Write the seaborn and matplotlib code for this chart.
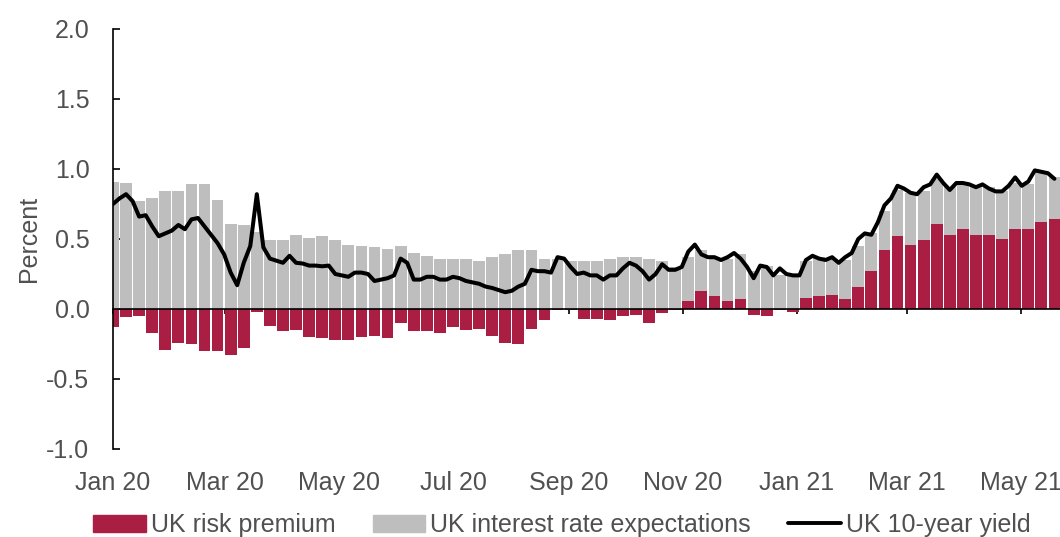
import matplotlib
matplotlib.use('Agg')
import matplotlib.pyplot as plt
import matplotlib.dates as mdates
from matplotlib.patches import Patch
from matplotlib.lines import Line2D
import seaborn as sns
import numpy as np
import pandas as pd

# weekly decomposition (bars), one value per week centred on Wednesday
week_dates = pd.date_range('2020-01-01', periods=73, freq='7D')
risk_premium = [
    -0.13, -0.06, -0.05, -0.17, -0.29, -0.24, -0.25, -0.30, -0.30, -0.33,
    -0.28, -0.02, -0.12, -0.16, -0.15, -0.20, -0.21, -0.22, -0.22, -0.20,
    -0.19, -0.21, -0.10, -0.16, -0.16, -0.17, -0.13, -0.15, -0.14, -0.19,
    -0.24, -0.25, -0.14, -0.08, -0.01, -0.01, -0.07, -0.07, -0.08, -0.05,
    -0.04, -0.10, -0.03, -0.01, 0.06, 0.13, 0.09, 0.06, 0.07, -0.04,
    -0.05, -0.01, -0.02, 0.08, 0.09, 0.10, 0.07, 0.16, 0.27, 0.42,
    0.52, 0.46, 0.49, 0.61, 0.53, 0.57, 0.53, 0.53, 0.50, 0.57,
    0.57, 0.62, 0.64,
]
rate_expectations = [
    0.91, 0.90, 0.77, 0.79, 0.84, 0.84, 0.89, 0.89, 0.78, 0.61,
    0.60, 0.55, 0.49, 0.49, 0.53, 0.51, 0.52, 0.49, 0.46, 0.45,
    0.44, 0.43, 0.45, 0.40, 0.38, 0.36, 0.36, 0.36, 0.345, 0.37,
    0.39, 0.42, 0.42, 0.36, 0.36, 0.34, 0.345, 0.345, 0.36, 0.37,
    0.37, 0.36, 0.34, 0.30, 0.31, 0.29, 0.28, 0.30, 0.32, 0.27,
    0.31, 0.24, 0.25, 0.26, 0.28, 0.26, 0.28, 0.29, 0.27, 0.28,
    0.33, 0.37, 0.35, 0.32, 0.34, 0.34, 0.35, 0.34, 0.34, 0.33,
    0.32, 0.36, 0.30,
]

# 10-year yield, read twice a week
line_dates = pd.date_range('2020-01-01', periods=145, freq='84h')
yield_10y = [
    0.75, 0.79, 0.82, 0.77, 0.66, 0.67, 0.59, 0.52, 0.54, 0.56,
    0.60, 0.57, 0.64, 0.65, 0.59, 0.53, 0.47, 0.39, 0.26, 0.17,
    0.33, 0.45, 0.82, 0.44, 0.36, 0.345, 0.33, 0.38, 0.33, 0.325,
    0.31, 0.31, 0.305, 0.31, 0.25, 0.24, 0.23, 0.26, 0.26, 0.25,
    0.20, 0.21, 0.22, 0.24, 0.36, 0.33, 0.21, 0.21, 0.23, 0.23,
    0.21, 0.21, 0.23, 0.22, 0.20, 0.19, 0.18, 0.16, 0.15, 0.135,
    0.12, 0.13, 0.16, 0.18, 0.28, 0.27, 0.27, 0.26, 0.37, 0.36,
    0.30, 0.25, 0.26, 0.24, 0.24, 0.21, 0.24, 0.24, 0.29, 0.33,
    0.31, 0.27, 0.21, 0.25, 0.32, 0.28, 0.28, 0.30, 0.41, 0.46,
    0.39, 0.37, 0.37, 0.35, 0.37, 0.40, 0.36, 0.30, 0.22, 0.31,
    0.30, 0.24, 0.29, 0.25, 0.24, 0.24, 0.35, 0.38, 0.36, 0.35,
    0.37, 0.33, 0.37, 0.40, 0.50, 0.54, 0.53, 0.62, 0.74, 0.79,
    0.88, 0.86, 0.83, 0.82, 0.87, 0.89, 0.96, 0.90, 0.85, 0.90,
    0.90, 0.89, 0.87, 0.89, 0.86, 0.84, 0.84, 0.88, 0.94, 0.88,
    0.91, 0.99, 0.98, 0.97, 0.93,
]

RED = '#AB1E44'
GREY = '#BEBEBE'
TXT = '#505050'
FS = 18

sns.set_theme(style='white')
plt.rcParams['font.family'] = ['Liberation Sans', 'DejaVu Sans']

fig = plt.figure(figsize=(10.6, 5.37), dpi=100)
ax = fig.add_axes([0.1066, 0.1639, 0.8934, 0.7821])

prem = np.array(risk_premium)
ax.bar(week_dates, prem, width=6.3, color=RED, linewidth=0)
ax.bar(week_dates, rate_expectations, width=6.3, bottom=np.maximum(prem, 0),
       color=GREY, linewidth=0)
sns.lineplot(x=line_dates, y=yield_10y, ax=ax, color='black', lw=2.9, zorder=5)

ax.set_xlim(pd.Timestamp('2020-01-01'), pd.Timestamp('2021-05-22'))
ax.set_ylim(-1, 2)
ax.set_yticks(np.arange(-1, 2.01, 0.5))
ax.yaxis.set_major_formatter(matplotlib.ticker.FormatStrFormatter('%.1f'))
ax.xaxis.set_major_locator(mdates.MonthLocator(bymonth=[1, 3, 5, 7, 9, 11]))
ax.xaxis.set_major_formatter(mdates.DateFormatter('%b %y'))

for s in ['top', 'right']:
    ax.spines[s].set_visible(False)
ax.spines['left'].set_color('black')
ax.spines['left'].set_linewidth(1.2)
ax.spines['bottom'].set_position(('data', 0))
ax.spines['bottom'].set_color('black')
ax.spines['bottom'].set_linewidth(1.2)
ax.spines['bottom'].set_zorder(6)

ax.tick_params(axis='y', direction='in', length=5, width=1.2, color='black',
               pad=17, labelsize=FS, labelcolor=TXT, left=True)
ax.tick_params(axis='x', direction='out', length=3.6, width=1.2, color='black',
               pad=113, labelsize=FS, labelcolor=TXT, bottom=True)
ax.set_xlabel('')
ax.set_ylabel('Percent', fontsize=FS, color=TXT, labelpad=4)

handles = [Patch(color=RED), Patch(color=GREY), Line2D([], [], color='black', lw=2.8)]
labels = ['UK risk premium', 'UK interest rate expectations', 'UK 10-year yield']
leg = fig.legend(handles, labels, ncol=3, frameon=False, loc='center',
                 bbox_to_anchor=(0.53, 0.022), fontsize=FS, handlelength=2.1,
                 handletextpad=0.2, columnspacing=1.5)
for t in leg.get_texts():
    t.set_color(TXT)

fig.savefig('out.png', dpi=100)
